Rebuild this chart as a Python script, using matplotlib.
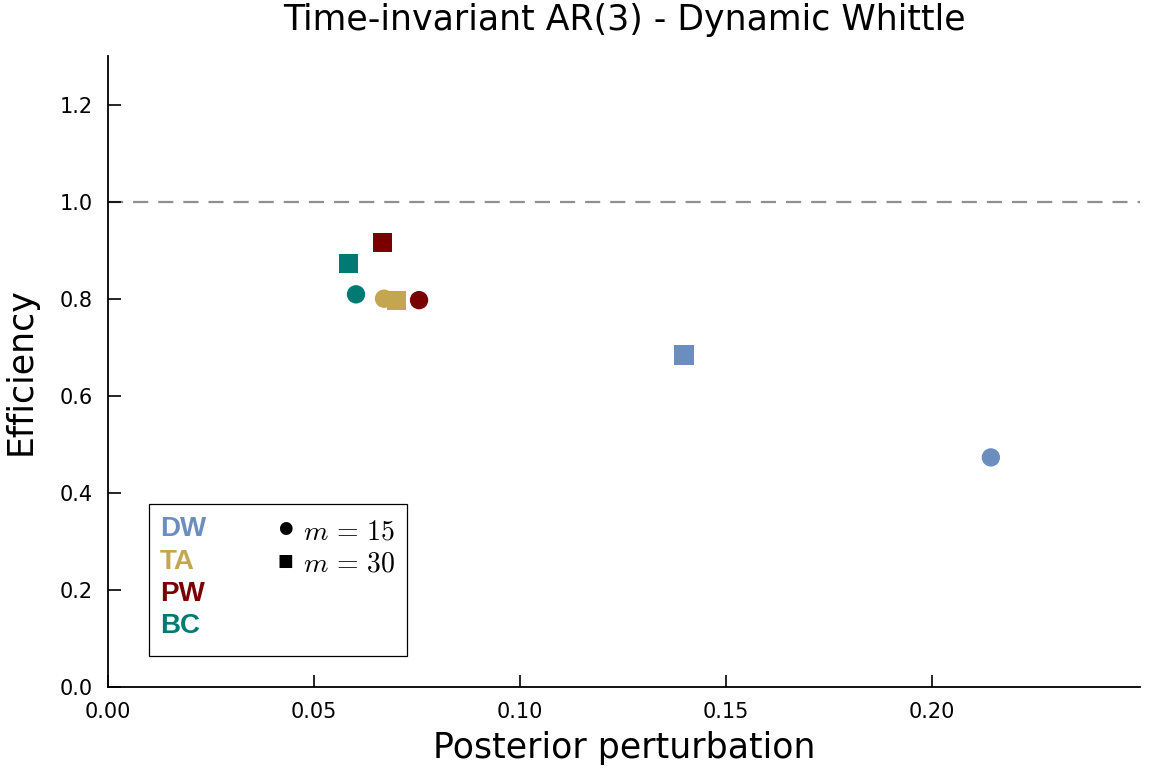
import matplotlib
matplotlib.use("Agg")
import matplotlib.pyplot as plt
from matplotlib.patches import Rectangle

plt.rcParams["mathtext.fontset"] = "cm"

methods = ["DW", "TA", "PW", "BC"]
colors = ["#6C8EBF", "#C4A550", "#7A0000", "#007A73"]
perturb_m15 = [0.2143, 0.0670, 0.0755, 0.0602]
eff_m15 = [0.473, 0.800, 0.797, 0.809]
perturb_m30 = [0.1398, 0.0701, 0.0667, 0.0583]
eff_m30 = [0.684, 0.797, 0.916, 0.872]
xticks = [0.00, 0.05, 0.10, 0.15, 0.20]
yticks = [0.0, 0.2, 0.4, 0.6, 0.8, 1.0, 1.2]

fig = plt.figure(figsize=(11.63, 7.75), dpi=100)
ax = fig.add_axes([108/1163, 1-687/775, (1140-108)/1163, (687-56)/775])

ax.axhline(1.0, color="#8f8f8f", lw=1.6, ls=(0, (6.8, 4.5)), zorder=1)
for i, m in enumerate(methods):
    ax.scatter(perturb_m15[i], eff_m15[i], marker="o", s=175, color=colors[i], edgecolors="none", zorder=3)
    ax.scatter(perturb_m30[i], eff_m30[i], marker="s", s=190, color=colors[i], edgecolors="none", zorder=3)

ax.set_xlim(0, 0.2505)
ax.set_ylim(0, 1.3)
ax.set_xticks(xticks)
ax.set_xticklabels([f"{v:.2f}" for v in xticks])
ax.set_yticks(yticks)
ax.set_yticklabels([f"{v:.1f}" for v in yticks])
ax.tick_params(direction="in", length=9, width=1.2, labelsize=15)
ax.tick_params(axis="x", pad=11)
ax.tick_params(axis="y", pad=11)
for s in ["top", "right"]:
    ax.spines[s].set_visible(False)
for s in ["left", "bottom"]:
    ax.spines[s].set_linewidth(1.3)

ax.set_title("Time-invariant AR(3) - Dynamic Whittle", fontsize=25, pad=19)
ax.set_xlabel("Posterior perturbation", fontsize=25, labelpad=6)
ax.set_ylabel("Efficiency", fontsize=25, labelpad=16)

# custom legend box
box = Rectangle((149/1163, 1-656/775), (407-149)/1163, (656-504)/775, transform=fig.transFigure,
                facecolor="white", edgecolor="black", lw=0.9, zorder=5)
fig.patches.append(box)
ys = [529, 562, 594, 626]
for m, c, y in zip(methods, colors, ys):
    fig.text(160/1163, 1-y/775, m, color=c, fontsize=20, fontweight="bold",
             family="Liberation Sans", va="center", ha="left", zorder=6)
fig.text(285/1163, 1-528/775, "●", fontsize=12, va="center", ha="center", color="black", zorder=6)
fig.text(285/1163, 1-561/775, "■", fontsize=12, va="center", ha="center", color="black", zorder=6)
fig.text(303/1163, 1-531/775, r"$m\,=\,15$", fontsize=20, va="center", ha="left", zorder=6)
fig.text(303/1163, 1-563/775, r"$m\,=\,30$", fontsize=20, va="center", ha="left", zorder=6)

fig.savefig("out.png", dpi=100)
